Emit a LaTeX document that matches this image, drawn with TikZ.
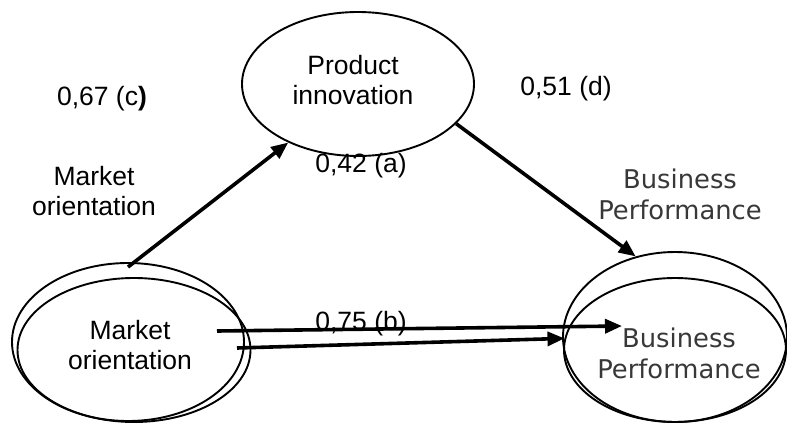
\documentclass[tikz,border=0pt]{standalone}
\usepackage{fontspec}
\setmainfont{Liberation Sans}
\newfontfamily\dvs{DejaVu Sans}
\usetikzlibrary{arrows.meta,shapes.geometric}
\begin{document}
\begin{tikzpicture}[x=1pt,y=-1pt,
  oval/.style={draw,ellipse,line width=1.9pt,inner sep=0pt},
  arr/.style={line width=3.6pt,-{Triangle[length=17pt,width=14pt]}},
  lbl/.style={font=\fontsize{26.5}{30}\selectfont,inner sep=0pt,align=center,anchor=base},
  bpl/.style={font=\dvs\fontsize{25.8}{31}\selectfont,text=black!78,inner sep=0pt,align=center,anchor=base}]
\useasboundingbox (0,0) rectangle (787,423);
% ellipses
\node[oval,minimum width=232pt,minimum height=158pt] (moback) at (128,342) {};
\node[oval,minimum width=233pt,minimum height=144pt] (mo) at (134,350) {};
\node[oval,minimum width=224pt,minimum height=170pt] (bpback) at (675,337) {};
\node[oval,minimum width=222pt,minimum height=144pt] (bp) at (675,350) {};
\node[oval,minimum width=232pt,minimum height=144pt] (pi) at (358,84) {};
% texts (base anchor = last line)
\node[lbl] (pitxt) at (353,104) {Product\\innovation};
\node[lbl] (lc) at (102,105) {0,67 (c\textbf{)}};
\node[lbl] (motop) at (94,215) {Market\\orientation};
\node[lbl] (ld) at (566,95) {0,51 (d)};
\node[bpl] (bptop) at (680,219) {Business\\Performance};
\node[lbl] (la) at (361,172) {0,42 (a)};
\node[lbl] (lb) at (361,330) {0,75 (b)};
\node[lbl] (motxt) at (130,369) {Market\\orientation};
\node[bpl] (bptxt) at (679,378) {Business\\Performance};
% connectors
\coordinate (s1) at (128,267);
\coordinate (b1s) at (217,331);
\coordinate (b1e) at (622,326);
\coordinate (b2s) at (237,348);
\draw[arr] (s1) -- (pi.220.5);
\draw[arr] (pi.338.6) -- (bpback.116);
\draw[arr] (b1s) -- (b1e);
\draw[arr] (b2s) -- (bp.174.8);
\end{tikzpicture}
\end{document}
